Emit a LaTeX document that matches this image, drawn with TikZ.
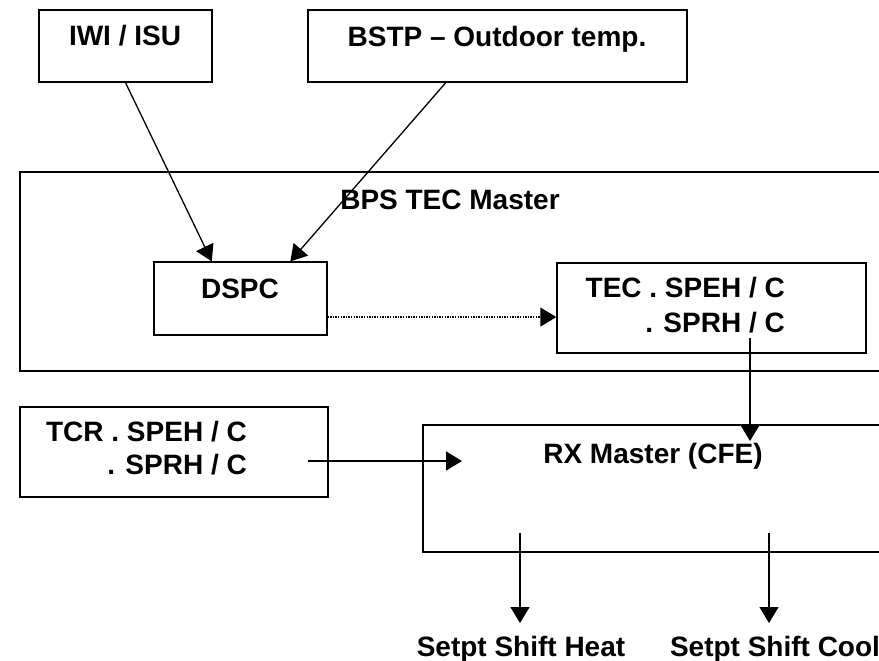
\documentclass[tikz,border=0pt]{standalone}
\usepackage{fontspec}
\setmainfont{Liberation Sans}
\usetikzlibrary{arrows.meta,calc}
\begin{document}
\begin{tikzpicture}[x=1pt,y=-1pt,
  box/.style={draw,line width=1.3pt,inner sep=0pt},
  lbl/.style={anchor=base,inner sep=0pt,font=\bfseries\fontsize{28}{32}\selectfont},
  arr/.style={line width=1.3pt,-{Triangle[length=16pt,width=19pt]}}]
\useasboundingbox (0,0) rectangle (879,661);
\clip (0,0) rectangle (879,661);

\node[box,minimum width=173pt,minimum height=72pt] (iwi) at (125.5,46) {};
\node[box,minimum width=379pt,minimum height=72pt] (bstp) at (497.5,46) {};
\node[box,minimum width=870pt,minimum height=199pt] (bps) at (455,271.5) {};
\node[box,minimum width=173pt,minimum height=73pt] (dspc) at (240.5,298.5) {};
\node[box,minimum width=309pt,minimum height=90pt] (tec) at (711.5,308) {};
\node[box,minimum width=308pt,minimum height=90pt] (tcr) at (174,452) {};
\node[box,minimum width=467pt,minimum height=127pt] (rx) at (656.5,488.5) {};

\node[lbl] (iwitxt) at (125,46) {IWI / ISU};
\node[lbl] (bstptxt) at (497,47) {BSTP -- Outdoor temp.};
\node[lbl] (bpstxt) at (450,209) {BPS TEC Master};
\node[lbl] (dspctxt) at (240,298) {DSPC};
\node[lbl,anchor=base east] (tecone) at (785,297) {TEC . SPEH / C};
\node[lbl,anchor=base east] (tectwo) at (785,332) {. SPRH / C};
\node[lbl,anchor=base east] (tcrone) at (247,441) {TCR . SPEH / C};
\node[lbl,anchor=base east] (tcrtwo) at (247,474) {. SPRH / C};
\node[lbl] (rxtxt) at (653,463) {RX Master (CFE)};
\node[lbl] (heat) at (521,656) {Setpt Shift Heat};
\node[lbl] (cool) at (775,656) {Setpt Shift Cool};

\coordinate (dspcout) at ($(dspc.south east)!0.25!(dspc.north east)$);
\coordinate (tecin) at (tec.west |- dspcout);
\coordinate (tecout) at (750,338);
\coordinate (rxin) at (750,441);
\coordinate (tcrout) at (308,461);
\coordinate (rxleft) at (462,461);
\coordinate (heatout) at (520,533);
\coordinate (heatend) at (520,623);
\coordinate (coolout) at (769,533);
\coordinate (coolend) at (769,623);

\draw[arr] (iwi.south) -- ($(dspc.north west)!0.335!(dspc.north east)$);
\draw[arr] ($(bstp.south west)!0.364!(bstp.south east)$) -- ($(dspc.north west)!0.786!(dspc.north east)$);
\draw[arr,dash pattern=on 1.3pt off 1.3pt] (dspcout) -- (tecin);
\draw[arr] (tecout) -- (rxin);
\draw[arr] (tcrout) -- (rxleft);
\draw[arr] (heatout) -- (heatend);
\draw[arr] (coolout) -- (coolend);
\end{tikzpicture}
\end{document}
